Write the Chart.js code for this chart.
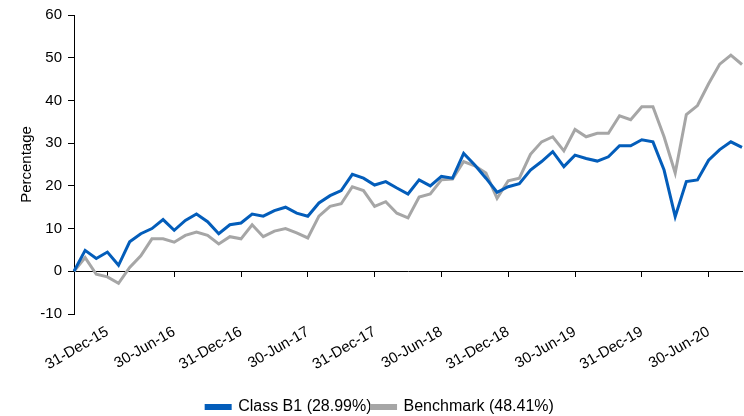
<!DOCTYPE html>
<html lang="en">
<head>
<meta charset="utf-8">
<title>Class B1 vs Benchmark</title>
<script src="https://cdn.jsdelivr.net/npm/chart.js@4.4.1/dist/chart.umd.min.js"></script>
<style>
  html, body { margin: 0; padding: 0; background: #fff; }
  #wrap { width: 744px; height: 416px; }
</style>
<script>
// month ends, 30-Sep-15 .. 30-Sep-20
var months = [
  '30-Sep-15','31-Oct-15','30-Nov-15','31-Dec-15',
  '31-Jan-16','29-Feb-16','31-Mar-16','30-Apr-16','31-May-16','30-Jun-16',
  '31-Jul-16','31-Aug-16','30-Sep-16','31-Oct-16','30-Nov-16','31-Dec-16',
  '31-Jan-17','28-Feb-17','31-Mar-17','30-Apr-17','31-May-17','30-Jun-17',
  '31-Jul-17','31-Aug-17','30-Sep-17','31-Oct-17','30-Nov-17','31-Dec-17',
  '31-Jan-18','28-Feb-18','31-Mar-18','30-Apr-18','31-May-18','30-Jun-18',
  '31-Jul-18','31-Aug-18','30-Sep-18','31-Oct-18','30-Nov-18','31-Dec-18',
  '31-Jan-19','28-Feb-19','31-Mar-19','30-Apr-19','31-May-19','30-Jun-19',
  '31-Jul-19','31-Aug-19','30-Sep-19','31-Oct-19','30-Nov-19','31-Dec-19',
  '31-Jan-20','29-Feb-20','31-Mar-20','30-Apr-20','31-May-20','30-Jun-20',
  '31-Jul-20','31-Aug-20','30-Sep-20'
];

// the dates that get a label / tick mark
var tickLabels = ['31-Dec-15','30-Jun-16','31-Dec-16','30-Jun-17','31-Dec-17',
                  '30-Jun-18','31-Dec-18','30-Jun-19','31-Dec-19','30-Jun-20'];

var classB1 = [0, 4.9, 3.0, 4.5, 1.4, 6.9, 8.8, 10.0, 12.1, 9.6, 11.9, 13.4, 11.6,
  8.8, 10.9, 11.3, 13.4, 12.9, 14.2, 15.0, 13.6, 12.9, 16.0, 17.7, 18.9, 22.7,
  21.8, 20.2, 21.0, 19.5, 18.1, 21.4, 20.0, 22.2, 21.8, 27.6, 24.9, 21.8, 18.5,
  19.8, 20.5, 23.7, 25.7, 28.0, 24.5, 27.2, 26.4, 25.8, 26.8, 29.4, 29.4, 30.8,
  30.3, 23.7, 12.8, 21.0, 21.4, 26.0, 28.5, 30.3, 28.99];

var benchmark = [0, 3.2, -0.7, -1.3, -2.8, 0.9, 3.6, 7.6, 7.6, 6.8, 8.4, 9.2, 8.4,
  6.4, 8.1, 7.6, 10.9, 8.1, 9.4, 10.0, 9.0, 7.8, 12.9, 15.2, 15.8, 19.8, 18.9,
  15.2, 16.3, 13.6, 12.5, 17.4, 18.1, 21.4, 21.6, 25.7, 24.7, 23.0, 17.1, 21.2,
  21.8, 27.4, 30.3, 31.5, 28.2, 33.2, 31.5, 32.3, 32.3, 36.4, 35.5, 38.5, 38.5,
  31.5, 23.0, 36.7, 38.8, 43.9, 48.5, 50.6, 48.41];

var blue = '#035DBA';
var grey = '#A6A6A6';

function isLabelled(i) {
    return tickLabels.indexOf(months[i]) >= 0;
}

// no side padding for the x scales, the plot runs edge to edge
function noSidePadding(s) {
    s.paddingLeft = 0;
    s.paddingRight = 0;
}

function go()
{
    Chart.defaults.font.family = '"Liberation Sans", Arial, sans-serif';
    Chart.defaults.font.size = 15;
    Chart.defaults.color = '#000';

    var ctx = document.getElementById('myChart');
    var chart = new Chart(ctx, {
        type: 'line',
        data: {
            labels: months,
            datasets: [{
                label: 'Class B1 (28.99%)',
                data: classB1,
                borderColor: blue,
                backgroundColor: blue,
                borderWidth: 3,
                pointRadius: 0,
                tension: 0,
                fill: false
            }, {
                label: 'Benchmark (48.41%)',
                data: benchmark,
                borderColor: grey,
                backgroundColor: grey,
                borderWidth: 3,
                pointRadius: 0,
                tension: 0,
                fill: false
            }]
        },
        options: {
            responsive: false,
            animation: false,
            layout: { padding: { left: 18, right: 2, top: 15, bottom: -9 } },
            plugins: {
                tooltip: { enabled: false },
                legend: {
                    position: 'bottom',
                    labels: { boxWidth: 24, boxHeight: 3, padding: 0, font: { size: 16 } }
                }
            },
            scales: {
                // labels along the bottom
                x: {
                    type: 'category',
                    position: 'bottom',
                    grid: { display: false, drawTicks: false },
                    border: { display: false },
                    ticks: {
                        autoSkip: false,
                        minRotation: 30,
                        maxRotation: 30,
                        padding: 9,
                        callback: function (v, i) {
                            return isLabelled(i) ? months[i] : '';
                        }
                    },
                    afterFit: function (s) { s.height = 85; noSidePadding(s); }
                },
                // zero line with its tick marks
                x0: {
                    axis: 'x',
                    type: 'category',
                    position: { y: 0 },
                    ticks: { display: false, autoSkip: false },
                    grid: {
                        drawOnChartArea: false,
                        drawTicks: true,
                        tickLength: 5,
                        color: function (c) { return isLabelled(c.index) ? '#000' : 'rgba(0,0,0,0)'; }
                    },
                    border: { color: '#000', width: 1 },
                    afterFit: noSidePadding
                },
                y: {
                    min: -10,
                    max: 60,
                    ticks: { stepSize: 10, padding: 6 },
                    grid: { drawOnChartArea: false, drawTicks: true, tickLength: 6, color: '#000' },
                    border: { color: '#000', width: 1 },
                    title: { display: true, text: 'Percentage', font: { size: 15 }, padding: { top: 0, bottom: 0 } },
                    afterFit: function (s) { s.width = 56; }
                }
            }
        }
    });
}
</script>
</head>
<body onload="go();">
<div id="wrap"><canvas id="myChart" width="744" height="416"></canvas></div>
</body>
</html>
